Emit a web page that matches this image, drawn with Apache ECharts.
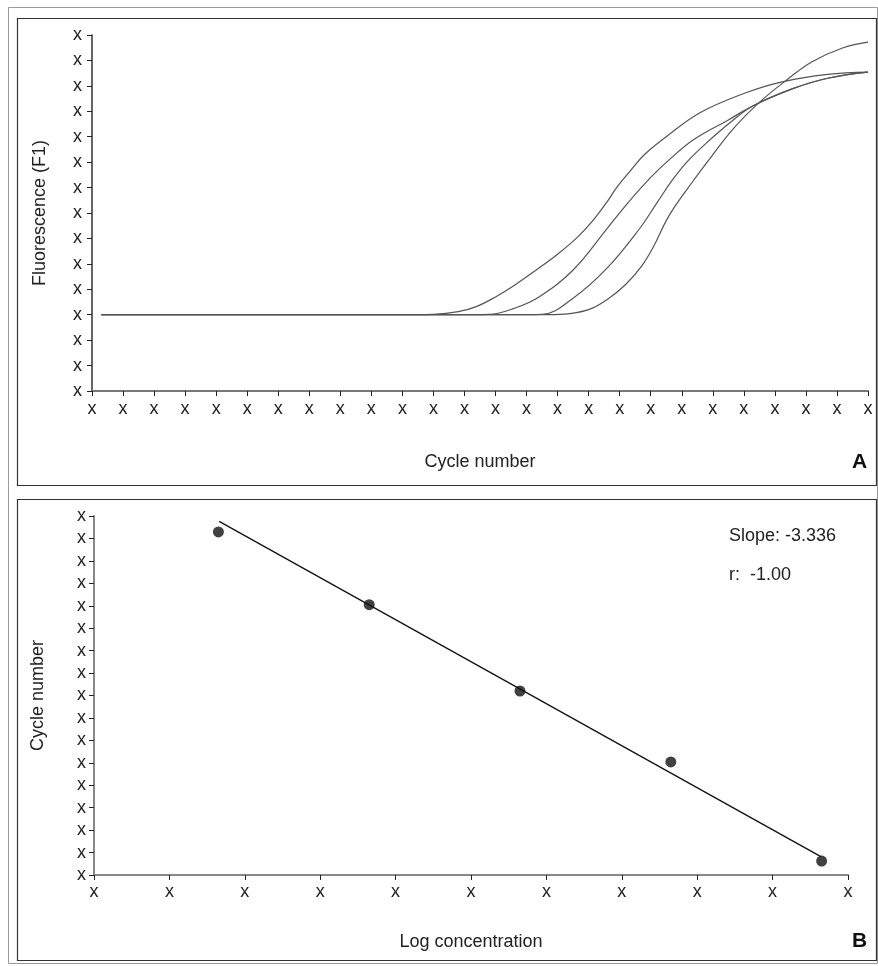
<!DOCTYPE html>
<html>
<head>
<meta charset="utf-8">
<script src="https://cdn.jsdelivr.net/npm/echarts@6/dist/echarts.min.js"></script>
<style>
  html, body { margin: 0; padding: 0; background: #fff; }
  #main { width: 878px; height: 966px; }
</style>
</head>
<body>
<div id="main"></div>
<script>
// panel A: amplification curves, [cycle, fluorescence]
var curve1 = [[0.3, 3], [10.5, 3.0], [11.0, 3.01], [11.8, 3.12], [12.4, 3.33], [13.0, 3.7], [13.6, 4.15],
  [14.3, 4.75], [15.0, 5.38], [15.6, 6.0], [16.1, 6.65], [16.6, 7.45], [16.9, 8.0], [17.3, 8.6], [17.8, 9.3],
  [18.5, 10.0], [19.6, 10.95], [21.0, 11.7], [22.2, 12.15], [23.7, 12.45], [25, 12.54]];
var curve2 = [[0.3, 3], [12.3, 3.0], [12.8, 3.01], [13.6, 3.25], [14.4, 3.7], [15.5, 4.76], [16.6, 6.4], [17.3, 7.45],
  [18.0, 8.4], [18.6, 9.1], [19.4, 9.9], [20.5, 10.66], [21.3, 11.22], [22.6, 11.9], [23.7, 12.3], [25, 12.54]];
var curve3 = [[0.3, 3], [14.0, 3.0], [14.5, 3.01], [15.5, 3.65], [16.6, 4.84], [17.65, 6.4], [18.2, 7.4], [18.7, 8.3],
  [19.2, 9.05], [19.9, 9.87], [20.6, 10.6], [21.3, 11.22], [22.6, 11.9], [23.7, 12.3], [25, 12.54]];
var curve4 = [[0.3, 3], [14.6, 3.0], [15.1, 3.01], [16.0, 3.2], [16.6, 3.6], [17.2, 4.2], [17.7, 4.9], [18.1, 5.7],
  [18.5, 6.7], [18.8, 7.3], [19.3, 8.15], [19.85, 9.05], [20.65, 10.3], [21.5, 11.35], [22.4, 12.25],
  [23.2, 12.95], [24.2, 13.5], [25, 13.72]];

// panel B: standard curve
var logConc = [1.65, 3.65, 5.65, 7.65, 9.65];
var ctValues = [15.29, 12.05, 8.2, 5.04, 0.62];
var fitLine = [[1.66, 15.76], [9.64, 0.82]];
var slopeText = 'Slope: -3.336';
var rText = 'r:  -1.00';

var xTickLabel = 'x';
var font = 'Liberation Sans';

var chart = echarts.init(document.getElementById('main'));

function axisX(grid, max, lineColor, margin) {
  return {
    type: 'value', gridIndex: grid, min: 0, max: max, interval: 1,
    splitLine: { show: false },
    axisLine: { lineStyle: { color: lineColor, width: 2 } },
    axisTick: { length: 5, lineStyle: { color: '#222' } },
    axisLabel: { formatter: function () { return xTickLabel; }, color: '#222', fontSize: 18, fontFamily: font, margin: margin },
    nameLocation: 'middle',
    nameTextStyle: { color: '#222', fontSize: 18, fontFamily: font }
  };
}
function axisY(grid, max, lineColor, margin) {
  return {
    type: 'value', gridIndex: grid, min: 0, max: max, interval: 1,
    splitLine: { show: false },
    axisLine: { show: true, lineStyle: { color: lineColor, width: 1.5 } },
    axisTick: { show: true, length: 5, lineStyle: { color: '#222' } },
    axisLabel: { formatter: function () { return xTickLabel; }, color: '#222', fontSize: 18, fontFamily: font, margin: margin },
    nameLocation: 'middle',
    nameRotate: 90,
    nameTextStyle: { color: '#222', fontSize: 18, fontFamily: font }
  };
}

var xA = axisX(0, 25, '#777', 9);
xA.name = 'Cycle number';
xA.nameGap = 62;
var yA = axisY(0, 14, '#333', 10);
yA.name = 'Fluorescence (F1)';
yA.nameGap = 43;
var xB = axisX(1, 10, '#888', 8);
xB.name = 'Log concentration';
xB.nameGap = 58;
var yB = axisY(1, 16, '#888', 8);
yB.axisLine.lineStyle.width = 2;
yB.name = 'Cycle number';
yB.nameGap = 47;

function curveSeries(d) {
  return { type: 'line', xAxisIndex: 0, yAxisIndex: 0, data: d, smooth: 0.4,
    showSymbol: false, lineStyle: { color: '#555', width: 1.2 }, silent: true };
}

var option = {
  backgroundColor: '#ffffff',
  animation: false,
  grid: [
    { left: 92, top: 35, right: 10, bottom: 575 },
    { left: 94, top: 516, right: 30, bottom: 91 }
  ],
  xAxis: [xA, xB],
  yAxis: [yA, yB],
  graphic: [
    { type: 'rect', shape: { x: 8.5, y: 7.5, width: 869, height: 956 }, style: { fill: 'none', stroke: '#999', lineWidth: 1 }, z: 0 },
    { type: 'rect', shape: { x: 17.5, y: 18.5, width: 859, height: 467 }, style: { fill: 'none', stroke: '#333', lineWidth: 1.2 }, z: 0 },
    { type: 'rect', shape: { x: 17.5, y: 499.5, width: 859, height: 461 }, style: { fill: 'none', stroke: '#333', lineWidth: 1.2 }, z: 0 },
    { type: 'text', left: 852, top: 452, style: { text: 'A', fill: '#111', font: 'bold 21px "Liberation Sans"' } },
    { type: 'text', left: 852, top: 931, style: { text: 'B', fill: '#111', font: 'bold 21px "Liberation Sans"' } },
    { type: 'text', left: 729, top: 527, style: { text: slopeText, fill: '#222', font: '18px "Liberation Sans"' } },
    { type: 'text', left: 729, top: 566, style: { text: rText, fill: '#222', font: '18px "Liberation Sans"' } }
  ],
  series: [
    curveSeries(curve1),
    curveSeries(curve2),
    curveSeries(curve3),
    curveSeries(curve4),
    {
      type: 'line', xAxisIndex: 1, yAxisIndex: 1, data: fitLine, showSymbol: false,
      lineStyle: { color: '#111', width: 1.3 }, silent: true
    },
    {
      type: 'scatter', xAxisIndex: 1, yAxisIndex: 1, symbolSize: 11,
      data: logConc.map(function (x, i) { return [x, ctValues[i]]; }),
      itemStyle: { color: '#111' }
    }
  ]
};

chart.setOption(option);
</script>
</body>
</html>
